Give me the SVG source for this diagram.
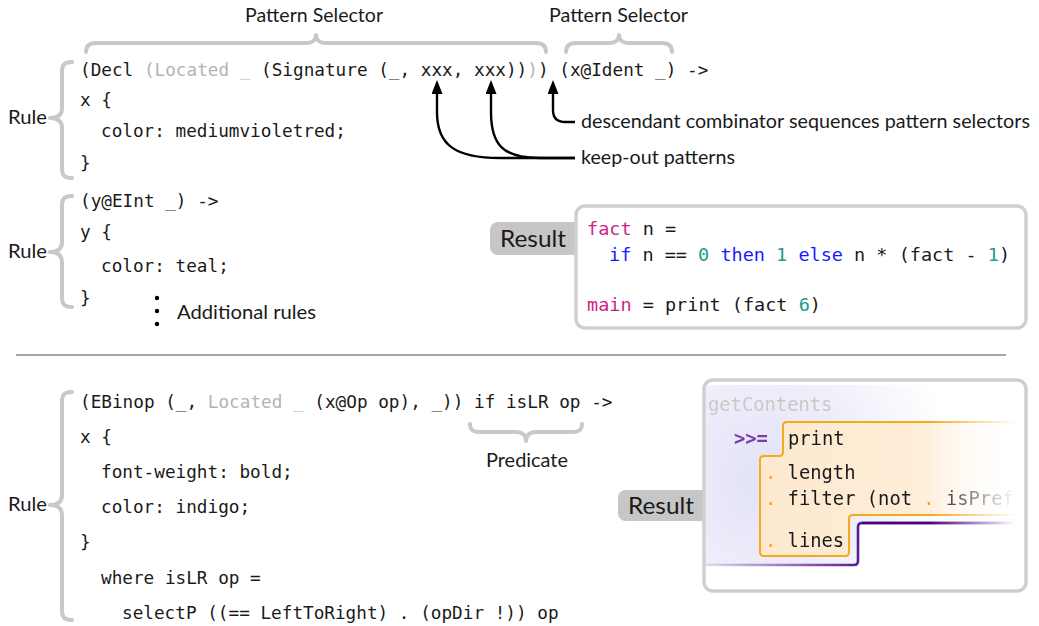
<svg xmlns="http://www.w3.org/2000/svg" width="1039" height="626" viewBox="0 0 1039 626">
<style>
.code{font-family:"DejaVu Sans Mono","Liberation Mono",monospace;font-size:17.7px;fill:#1a1a1a}
.rc{font-family:"DejaVu Sans Mono","Liberation Mono",monospace;font-size:18.5px;fill:#1a1a1a}
.rc2{font-family:"DejaVu Sans Mono","Liberation Mono",monospace;font-size:18.8px;fill:#1a1a1a}
.gr{fill:#b4b4b4}
.lbl{font-family:Lato,"Open Sans","Liberation Sans",sans-serif;font-size:19px;fill:#1a1a1a}
.res{font-family:Lato,"Open Sans","Liberation Sans",sans-serif;font-size:23px;fill:#1a1a1a}
.brace{fill:none;stroke:#c8c8c8;stroke-width:4;stroke-linecap:round;stroke-linejoin:round}
.arr{fill:none;stroke:#000;stroke-width:2.4;marker-end:url(#ah)}
.box{fill:#fff;stroke:#cfcfcf;stroke-width:3.5}
.tag{fill:#c6c6c6}
.kw{fill:#1a1aff}
.fn{fill:#cc1f8a}
.num{fill:#1a9a90}
.dot{fill:#f5a020}
</style>
<defs>
<marker id="ah" viewBox="0 0 14 11" refX="4" refY="5.5" markerWidth="14" markerHeight="11" orient="auto" markerUnits="userSpaceOnUse">
<path d="M0,0 L14,5.5 L0,11 Z" fill="#000"/>
</marker>
<clipPath id="c2"><rect x="706" y="382" width="318" height="207" rx="7"/></clipPath>
<linearGradient id="fadeG" gradientUnits="userSpaceOnUse" x1="706" y1="0" x2="1016" y2="0">
<stop offset="0" stop-color="#fff"/>
<stop offset="0.72" stop-color="#fff"/>
<stop offset="1" stop-color="#000"/>
</linearGradient>
<mask id="fadeM" maskUnits="userSpaceOnUse" x="700" y="375" width="330" height="220">
<rect x="700" y="375" width="330" height="220" fill="url(#fadeG)"/>
</mask>
<radialGradient id="lav" gradientUnits="userSpaceOnUse" cx="765" cy="480" r="190">
<stop offset="0" stop-color="#e2e2f7"/>
<stop offset="0.45" stop-color="#ececfa"/>
<stop offset="1" stop-color="#ffffff"/>
</radialGradient>
<linearGradient id="peach" gradientUnits="userSpaceOnUse" x1="760" y1="0" x2="1010" y2="0">
<stop offset="0" stop-color="#fde9cf"/>
<stop offset="0.6" stop-color="#feecd6"/>
<stop offset="1" stop-color="#ffffff"/>
</linearGradient>
<linearGradient id="purp" gradientUnits="userSpaceOnUse" x1="706" y1="0" x2="860" y2="0">
<stop offset="0" stop-color="#4b0082" stop-opacity="0.12"/>
<stop offset="1" stop-color="#4b0082" stop-opacity="0.9"/>
</linearGradient>
</defs>

<g id="labels">
<text class="lbl" x="245" y="22" textLength="138" lengthAdjust="spacingAndGlyphs">Pattern Selector</text>
<text class="lbl" x="549" y="22" textLength="139" lengthAdjust="spacingAndGlyphs">Pattern Selector</text>
<text class="lbl" x="8" y="124" textLength="39" lengthAdjust="spacingAndGlyphs">Rule</text>
<text class="lbl" x="8" y="258" textLength="39" lengthAdjust="spacingAndGlyphs">Rule</text>
<text class="lbl" x="8" y="511" textLength="39" lengthAdjust="spacingAndGlyphs">Rule</text>
<text class="lbl" x="581" y="128" textLength="449" lengthAdjust="spacingAndGlyphs">descendant combinator sequences pattern selectors</text>
<text class="lbl" x="581" y="164" textLength="154" lengthAdjust="spacingAndGlyphs">keep-out patterns</text>
<text class="lbl" x="177" y="319" textLength="139" lengthAdjust="spacingAndGlyphs">Additional rules</text>
<text class="lbl" x="486" y="467" textLength="82" lengthAdjust="spacingAndGlyphs">Predicate</text>
</g>

<g id="braces">
<path class="brace" d="M86,52 C86,46 89,43 96,43 L306,43 C312,43 316,40 316,35 C316,40 320,43 326,43 L536,43 C543,43 546,46 546,52"/>
<path class="brace" d="M566,52 C566,46 569,43 576,43 L609,43 C615,43 619,40 619,35 C619,40 623,43 629,43 L662,43 C669,43 672,46 672,52"/>
<path class="brace" d="M470,424 C470,430 473,432 480,432 L516,432 C522,432 526,435 526,441 C526,435 530,432 536,432 L572,432 C579,432 582,430 582,424"/>
<path class="brace" d="M72,62 C64,62 62,65 62,72 L62,108 C62,115 58,118 50,118 C58,118 62,121 62,128 L62,168 C62,175 64,178 72,178"/>
<path class="brace" d="M72,196 C64,196 62,199 62,206 L62,242 C62,249 58,252 50,252 C58,252 62,255 62,262 L62,297 C62,304 64,307 72,307"/>
<path class="brace" d="M72,392 C64,392 62,395 62,402 L62,495 C62,502 58,505 50,505 C58,505 62,508 62,515 L62,610 C62,617 64,620 72,620"/>
</g>

<g id="rule1">
<text class="code" x="80" y="76">(Decl <tspan class="gr">(Located _ </tspan>(Signature (_, xxx, xxx))<tspan class="gr">)</tspan>) (x@Ident _) -&gt;</text>
<text class="code" x="80" y="106">x {</text>
<text class="code" x="101" y="137">color: mediumvioletred;</text>
<text class="code" x="80" y="169">}</text>
</g>

<g id="rule2">
<text class="code" x="80" y="207">(y@EInt _) -&gt;</text>
<text class="code" x="80" y="238">y {</text>
<text class="code" x="101" y="272">color: teal;</text>
<text class="code" x="80" y="304">}</text>
<circle cx="157" cy="298" r="2.2" fill="#000"/>
<circle cx="157" cy="311" r="2.2" fill="#000"/>
<circle cx="157" cy="324" r="2.2" fill="#000"/>
</g>

<g id="result1">
<rect class="tag" x="490" y="222" width="95" height="33" rx="8"/>
<rect class="box" x="576" y="206" width="450" height="122" rx="9"/>
<text class="res" x="500" y="247" textLength="66" lengthAdjust="spacingAndGlyphs">Result</text>
<text class="rc" x="587" y="235"><tspan class="fn">fact</tspan> n =</text>
<text class="rc" x="609" y="261"><tspan class="kw">if</tspan> n == <tspan class="num">0</tspan> <tspan class="kw">then</tspan> <tspan class="num">1</tspan> <tspan class="kw">else</tspan> n * (fact - <tspan class="num">1</tspan>)</text>
<text class="rc" x="587" y="311"><tspan class="fn">main</tspan> = print (fact <tspan class="num">6</tspan>)</text>
</g>

<line id="separator" x1="16" y1="355" x2="1006" y2="355" stroke="#8a8a8a" stroke-width="1.6"/>

<g id="rule3">
<text class="code" x="80" y="408">(EBinop (_, <tspan class="gr">Located _</tspan> (x@Op op), _)) if isLR op -&gt;</text>
<text class="code" x="80" y="443">x {</text>
<text class="code" x="101" y="478">font-weight: bold;</text>
<text class="code" x="101" y="513">color: indigo;</text>
<text class="code" x="80" y="548">}</text>
<text class="code" x="101" y="584">where isLR op =</text>
<text class="code" x="122" y="619">selectP ((== LeftToRight) . (opDir !)) op</text>
</g>

<g id="result2">
<rect class="tag" x="618" y="490" width="95" height="31" rx="8"/>
<rect class="box" x="704" y="380" width="322" height="211" rx="9"/>
<text class="res" x="628" y="514" textLength="66" lengthAdjust="spacingAndGlyphs">Result</text>
<g clip-path="url(#c2)">
<g mask="url(#fadeM)">
<path d="M700,385 L1024,385 L1024,523 L858,523 L858,565 L700,565 Z" fill="url(#lav)"/>
<path d="M700,565 L854,565 Q858,565 858,561 L858,527 Q858,523 862,523 L1024,523" fill="none" stroke="url(#purp)" stroke-width="2.6"/>
<path d="M862,523 L1024,523" fill="none" stroke="#4b0082" stroke-width="2.6"/>
<path d="M787,422 L1024,422 L1024,515 L853,515 Q849,515 849,519 L849,552 Q849,556 845,556 L764,556 Q760,556 760,552 L760,460 Q760,456 764,456 L779,456 Q783,456 783,452 L783,426 Q783,422 787,422 Z" fill="url(#peach)" stroke="#f7a81b" stroke-width="2"/>
<text class="rc2" x="708" y="411" style="fill:#c9c9c9">getContents</text>
<text class="rc2" x="734" y="445" style="fill:#7a3aa8;font-weight:bold">&gt;&gt;=</text>
<text class="rc2" x="788" y="445">print</text>
<text class="rc2" x="765" y="479"><tspan class="dot">.</tspan> length</text>
<text class="rc2" x="765" y="505"><tspan class="dot">.</tspan> filter (not <tspan class="dot">.</tspan> isPref</text>
<text class="rc2" x="765" y="547"><tspan class="dot">.</tspan> lines</text>
</g>
</g>
</g>

<g id="connectors">
<path class="arr" d="M575,158 L500,158 C455,158 437,145 437,112 L437,90"/>
<path class="arr" d="M575,158 L540,158 C503,158 491,145 491,112 L491,90"/>
<path class="arr" d="M575,122 L565,122 C557,122 553,118 553,110 L553,90"/>
</g>
</svg>
